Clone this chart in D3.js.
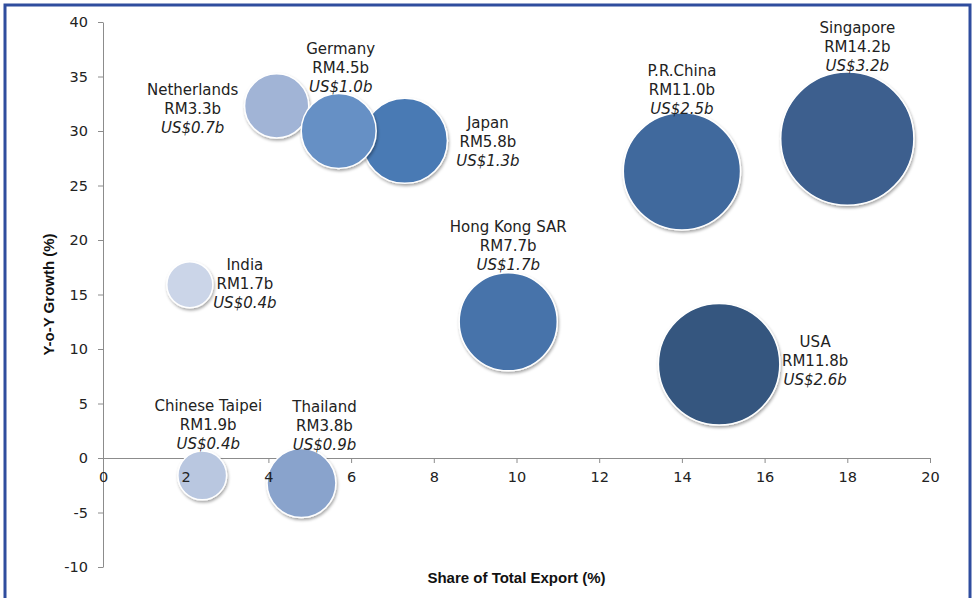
<!DOCTYPE html>
<html>
<head>
<meta charset="utf-8">
<script src="https://cdn.jsdelivr.net/npm/d3@7"></script>
<style>
  body { margin: 0; background: #fff; }
  svg { display: block; font-family: "DejaVu Sans", sans-serif; }
  .axis path, .axis line { stroke: #8c8c8c; }
  .axis text { font-size: 14.5px; fill: #222; font-family: "DejaVu Sans", sans-serif; }
  .axis.labels-only path, .axis.labels-only line { stroke: none; }
  .axis.lines-only text { display: none; }
</style>
</head>
<body>
<svg id="chart"></svg>
<script>
var countries = ['Singapore', 'USA', 'P.R.China', 'Hong Kong SAR', 'Japan', 'Netherlands', 'Germany', 'Thailand', 'Chinese Taipei', 'India']
var shareOfExport = [18.0, 14.9, 14.0, 9.8, 7.3, 4.2, 5.7, 4.8, 2.4, 2.1]
var yoyGrowth = [29.3, 8.6, 26.3, 12.5, 29.1, 32.3, 30.0, -2.3, -1.6, 15.9]
var valueRM = [14.2, 11.8, 11.0, 7.7, 5.8, 3.3, 4.5, 3.8, 1.9, 1.7]
var valueUSD = [3.2, 2.6, 2.5, 1.7, 1.3, 0.7, 1.0, 0.9, 0.4, 0.4]
var xTicks = [0, 2, 4, 6, 8, 10, 12, 14, 16, 18, 20]
var yTicks = [-10, -5, 0, 5, 10, 15, 20, 25, 30, 35, 40]

// styling / label layout (kept apart from the values)
var bubbleColors = ['#3c5f8e', '#34577f', '#41699d', '#4673aa', '#4a7ab4', '#a1b4d6', '#6690c5', '#89a3cc', '#b9c7e0', '#cbd5e8']
var labelDx = [10, 96, 0, 0, 83, -84, 2, 23, 6, 55]
var labelDy = [-92, -4, -82, -76, 1, 3, -63, -57, -51, -1]

var dims = {
  width: 976,
  height: 598,
  margin: { top: 22, right: 46, bottom: 31, left: 103 }
}

var svg = d3.select('#chart')
  .attr('width', dims.width)
  .attr('height', dims.height)

var defs = svg.append('defs')
var shadow = defs.append('filter')
  .attr('id', 'shadow')
  .attr('x', '-20%').attr('y', '-20%')
  .attr('width', '150%').attr('height', '150%')
shadow.append('feDropShadow')
  .attr('dx', 1).attr('dy', 2)
  .attr('stdDeviation', 1.6)
  .attr('flood-color', '#000')
  .attr('flood-opacity', 0.35)

// frame
svg.append('rect')
  .attr('x', 5).attr('y', 5)
  .attr('width', 965).attr('height', 610)
  .attr('fill', 'none')
  .attr('stroke', '#2f4d9e')
  .attr('stroke-width', 3)

var x = d3.scaleLinear()
  .domain([0, 20])
  .range([dims.margin.left, dims.width - dims.margin.right])
var y = d3.scaleLinear()
  .domain([-10, 40])
  .range([dims.height - dims.margin.bottom, dims.margin.top])
var r = d3.scaleSqrt()
  .domain([0, d3.max(valueRM)])
  .range([0, 66.6])

// plain hyphen for negatives, like the original
var plain = d => String(d)
var yAxis = d3.axisLeft(y).tickValues(yTicks).tickFormat(plain).tickSize(5).tickSizeOuter(0).tickPadding(10)
var xAxis = d3.axisBottom(x).tickValues(xTicks).tickFormat(plain).tickSize(5).tickSizeOuter(0).tickPadding(9)

// axis lines go under the bubbles
svg.append('g')
  .attr('class', 'axis lines-only')
  .attr('transform', 'translate(' + x(0) + ',0)')
  .call(yAxis)
svg.append('g')
  .attr('class', 'axis lines-only')
  .attr('transform', 'translate(0,' + y(0) + ')')
  .call(xAxis)

// axis titles
svg.append('text')
  .attr('x', (x(0) + x(20)) / 2)
  .attr('y', 583)
  .attr('text-anchor', 'middle')
  .style('font-family', '"Liberation Sans", sans-serif')
  .style('font-weight', 'bold')
  .style('font-size', '15px')
  .attr('fill', '#111')
  .text('Share of Total Export (%)')

svg.append('text')
  .attr('transform', 'translate(54,' + (y(40) + y(-10)) / 2 + ') rotate(-90)')
  .attr('text-anchor', 'middle')
  .style('font-family', '"Liberation Sans", sans-serif')
  .style('font-weight', 'bold')
  .style('font-size', '15px')
  .attr('fill', '#111')
  .text('Y-o-Y Growth (%)')

var points = countries.map(function (c, i) {
  return { name: c, share: shareOfExport[i], growth: yoyGrowth[i], rm: valueRM[i], usd: valueUSD[i], i: i }
})

svg.append('g').selectAll('circle')
  .data(points)
  .enter()
  .append('circle')
  .attr('cx', d => x(d.share))
  .attr('cy', d => y(d.growth))
  .attr('r', d => r(d.rm))
  .attr('fill', d => bubbleColors[d.i])
  .attr('stroke', '#fff')
  .attr('stroke-width', 1.5)
  .attr('filter', 'url(#shadow)')

// tick labels sit on top of the bubbles
svg.append('g')
  .attr('class', 'axis labels-only')
  .attr('transform', 'translate(' + x(0) + ',0)')
  .call(yAxis)
svg.append('g')
  .attr('class', 'axis labels-only')
  .attr('transform', 'translate(0,' + y(0) + ')')
  .call(xAxis)

var labels = svg.append('g').selectAll('g')
  .data(points)
  .enter()
  .append('g')
  .attr('transform', d => 'translate(' + (x(d.share) + labelDx[d.i]) + ',' + (y(d.growth) + labelDy[d.i]) + ')')
  .style('font-size', '15px')
  .attr('fill', '#222')
  .attr('text-anchor', 'middle')

labels.append('text').attr('y', -19).attr('dy', '0.35em').text(d => d.name)
labels.append('text').attr('y', 0).attr('dy', '0.35em').text(d => 'RM' + d.rm.toFixed(1) + 'b')
labels.append('text').attr('y', 19).attr('dy', '0.35em')
  .style('font-style', 'italic')
  .text(d => 'US$' + d.usd.toFixed(1) + 'b')
</script>
</body>
</html>
